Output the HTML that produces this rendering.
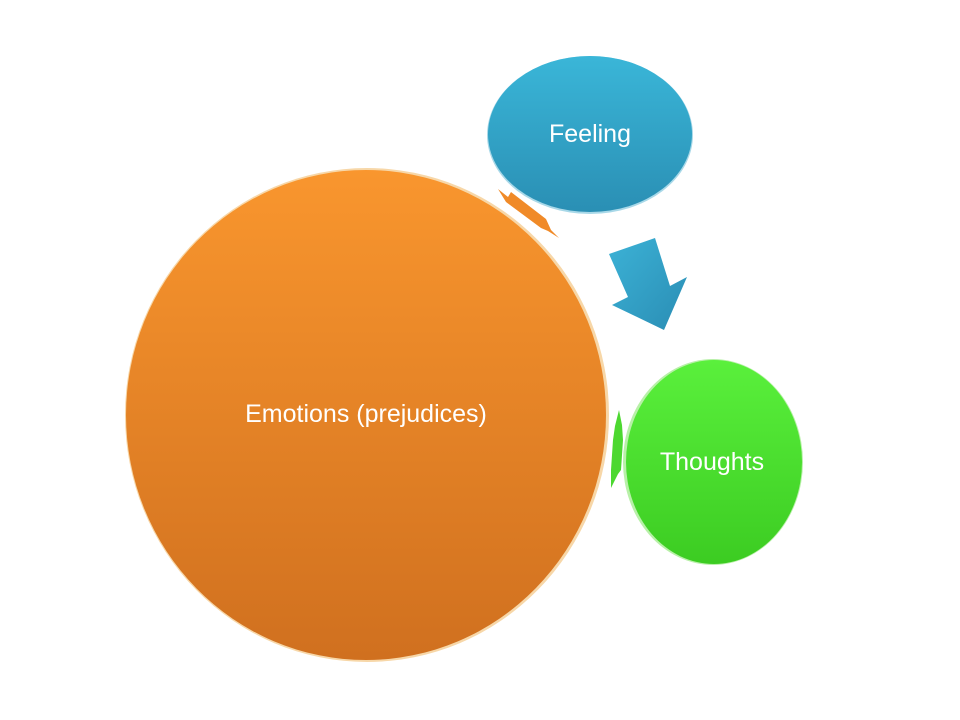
<!DOCTYPE html>
<html><head><style>
html,body{margin:0;padding:0;background:#fff;width:960px;height:720px;overflow:hidden}
</style></head><body>
<svg width="960" height="720" viewBox="0 0 960 720" xmlns="http://www.w3.org/2000/svg">
<defs>
<linearGradient id="og" x1="0" y1="0" x2="0" y2="1">
<stop offset="0" stop-color="#f9962e"/><stop offset="1" stop-color="#d0701f"/></linearGradient>
<linearGradient id="bg" x1="0" y1="0" x2="0" y2="1">
<stop offset="0" stop-color="#3ab6d8"/><stop offset="1" stop-color="#2a8fb4"/></linearGradient>
<linearGradient id="gg" x1="0" y1="0" x2="0" y2="1">
<stop offset="0" stop-color="#5af03c"/><stop offset="1" stop-color="#3ccc22"/></linearGradient>
<linearGradient id="ag" x1="0" y1="0" x2="1" y2="1">
<stop offset="0" stop-color="#3cb2d6"/><stop offset="1" stop-color="#2a8db4"/></linearGradient>
</defs>
<ellipse cx="367" cy="415" rx="242" ry="247" fill="#f7d7a8"/>
<ellipse cx="366" cy="415" rx="240" ry="245" fill="url(#og)"/>
<ellipse cx="590" cy="135" rx="103" ry="79" fill="#a8d8e8"/>
<ellipse cx="590" cy="134" rx="102" ry="78" fill="url(#bg)"/>
<ellipse cx="713" cy="462" rx="90" ry="103" fill="#b8f0a8"/>
<ellipse cx="714" cy="462" rx="88" ry="102" fill="url(#gg)"/>
<polygon points="498,189 508,197 511,192 546,219 551,230 559,238 548,231 541,228 506,202" fill="#f08a28"/>
<polygon points="619,410 615,426 613,440 611,470 611,488 618,474 621,470 623,440 622,425" fill="#4cd830"/>
<polygon points="609,254 655,238 670,286 687,277 664,330 612,305 628,297" fill="url(#ag)"/>
<g font-family="Liberation Sans, sans-serif" font-size="25" fill="#fff" text-anchor="middle">
<text x="590" y="142">Feeling</text>
<text x="366" y="422">Emotions (prejudices)</text>
<text x="712" y="470">Thoughts</text>
</g>
</svg>
</body></html>
